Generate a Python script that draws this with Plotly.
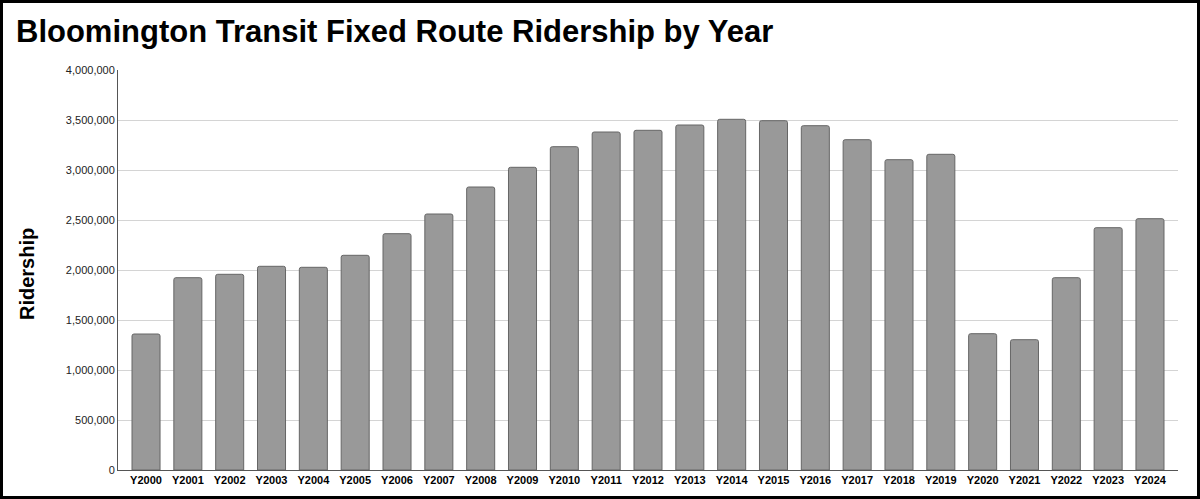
import plotly.graph_objects as go

years = ["Y2000", "Y2001", "Y2002", "Y2003", "Y2004", "Y2005", "Y2006", "Y2007",
         "Y2008", "Y2009", "Y2010", "Y2011", "Y2012", "Y2013", "Y2014", "Y2015",
         "Y2016", "Y2017", "Y2018", "Y2019", "Y2020", "Y2021", "Y2022", "Y2023", "Y2024"]
ridership = [1360000, 1923000, 1957000, 2037000, 2027000, 2147000, 2363000, 2560000,
             2830000, 3027000, 3233000, 3380000, 3397000, 3450000, 3507000, 3493000,
             3443000, 3303000, 3103000, 3157000, 1363000, 1303000, 1923000, 2423000, 2513000]
y_ticks = [0, 500000, 1000000, 1500000, 2000000, 2500000, 3000000, 3500000, 4000000]
y_tick_text = ["0", "500,000", "1,000,000", "1,500,000", "2,000,000", "2,500,000",
               "3,000,000", "3,500,000", "4,000,000"]

W, H = 1200, 499
L, R, T, B = 118, 22, 70, 29
pw, ph = W - L - R, H - T - B

fig = go.Figure(go.Bar(
    x=years, y=ridership,
    marker=dict(color="#999999", line=dict(color="#666666", width=1), cornerradius=2),
))

font = "Liberation Sans, Arial, Helvetica, sans-serif"

fig.update_layout(
    template="none",
    width=W, height=H,
    margin=dict(l=L, r=R, t=T, b=B),
    paper_bgcolor="white", plot_bgcolor="white",
    bargap=0.33,
    showlegend=False,
    font=dict(family=font, color="#222222"),
    title=dict(text="<b>Bloomington Transit Fixed Route Ridership by Year</b>",
               xref="container", x=16 / W, xanchor="left",
               yref="container", y=1 - 31 / H, yanchor="middle",
               font=dict(family=font, size=31, color="black")),
    xaxis=dict(range=[-0.67, 24.67], showgrid=False, showline=True, linecolor="#555555",
               linewidth=1, ticks="", zeroline=False,
               tickfont=dict(family=font, size=11, color="black", weight="bold")),
    yaxis=dict(range=[0, 4000000], tickvals=y_ticks, ticktext=y_tick_text,
               showgrid=True, gridcolor="#d4d4d4", gridwidth=1, zeroline=False,
               showline=True, linecolor="#555555", linewidth=1, ticks="",
               tickfont=dict(family=font, size=11, color="#222222")),
    annotations=[dict(text="<b>Ridership</b>", textangle=-90, xref="paper", yref="paper",
                      x=(27 - L) / pw, y=0.49, xanchor="center", yanchor="middle",
                      showarrow=False, font=dict(family=font, size=20, color="black"))],
    shapes=[dict(type="rect", xref="paper", yref="paper",
                 x0=(1.5 - L) / pw, x1=(W - 1.5 - L) / pw,
                 y0=(H - B - (H - 1.5)) / ph, y1=(H - B - 1.5) / ph,
                 line=dict(color="black", width=3), fillcolor="rgba(0,0,0,0)", layer="above")],
)

fig.write_html("out.html", config={"displayModeBar": False},
               post_script="document.body.style.margin='0';document.body.style.overflow='hidden';")
